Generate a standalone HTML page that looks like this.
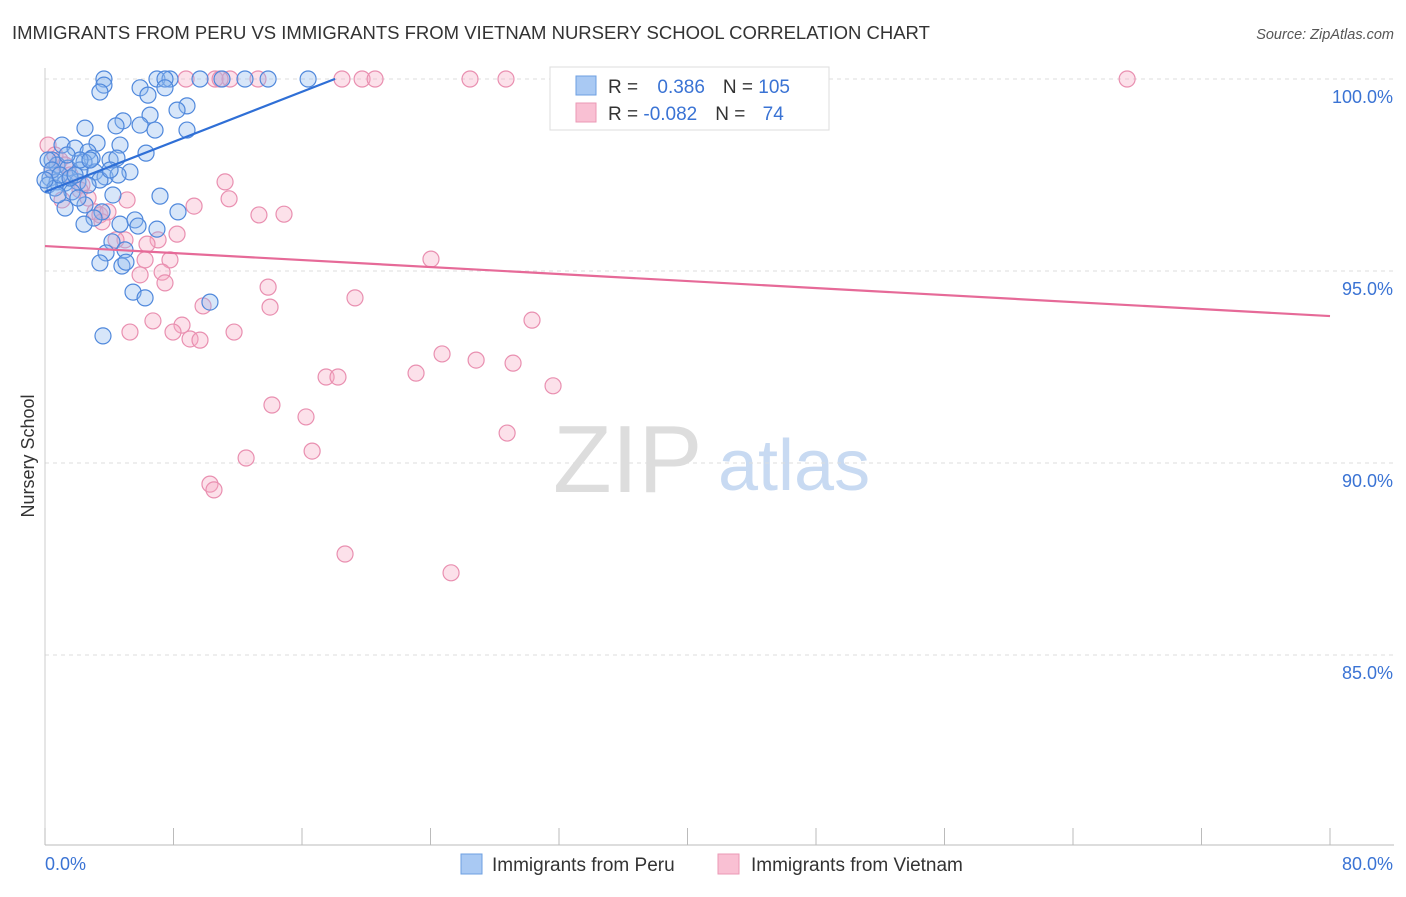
<!DOCTYPE html>
<html><head><meta charset="utf-8"><style>
body{margin:0;background:#fff;font-family:"Liberation Sans",sans-serif}
svg text{font-family:"Liberation Sans",sans-serif}
</style></head><body>
<svg id="chart" width="1406" height="892">
<text x="12" y="39" font-size="18.5" fill="#333">IMMIGRANTS FROM PERU VS IMMIGRANTS FROM VIETNAM NURSERY SCHOOL CORRELATION CHART</text>
<text x="1394" y="39" font-size="14.5" fill="#555" font-style="italic" text-anchor="end">Source: ZipAtlas.com</text>
<text x="34" y="456" font-size="18" fill="#333" transform="rotate(-90 34 456)" text-anchor="middle">Nursery School</text>
<g><text x="553" y="492" font-size="96" fill="#ddd" font-family="Liberation Serif,serif">ZIP</text><text x="718" y="490" font-size="72" fill="#c8daf2">atlas</text></g>
<g id="grid"></g><g id="axes"></g><g id="lines"></g><g id="pts"></g>
<g>
<rect x="550" y="67" width="279" height="63" fill="#fff" stroke="#ddd"/>
<rect x="576" y="76" width="20" height="19" fill="#a9c9f3" stroke="#6d9fe2"/>
<rect x="576" y="103" width="20" height="19" fill="#f9c0d3" stroke="#eb99b6"/>
<text x="608" y="93" font-size="19" fill="#333">R = <tspan fill="#3a73d4" dx="14">0.386</tspan><tspan dx="18" fill="#333">N = </tspan><tspan fill="#3a73d4">105</tspan></text>
<text x="608" y="120" font-size="19" fill="#333">R = <tspan fill="#3a73d4">-0.082</tspan><tspan dx="18" fill="#333">N = </tspan><tspan fill="#3a73d4" dx="12">74</tspan></text>
</g>
<g>
<rect x="461" y="854" width="21" height="20" fill="#a9c9f3" stroke="#6d9fe2"/>
<text x="492" y="871" font-size="19" fill="#333">Immigrants from Peru</text>
<rect x="718" y="854" width="21" height="20" fill="#f9c0d3" stroke="#eb99b6"/>
<text x="751" y="871" font-size="19" fill="#333">Immigrants from Vietnam</text>
</g>
</svg>
<script>
const yTicks=[100,95,90,85];
const yTickLabels=["100.0%","95.0%","90.0%","85.0%"];
const xTicks=[0,8,16,24,32,40,48,56,64,72,80];
const peruX=[3.67,6.97,7.78,9.65,11.02,12.45,13.89,16.38,7.47,3.67,3.42,5.92,6.41,7.47,8.84,6.54,8.22,4.86,4.42,5.92,2.49,6.85,8.84,3.24,4.67,6.29,1.06,1.87,2.68,2.93,4.05,4.48,2.43,0.44,0.75,1.43,2.18,3.11,3.74,5.29,4.55,0.31,0.75,1.25,2.05,3.42,2.68,0.19,0.62,1.68,4.23,7.16,1.25,2.49,2.05,3.55,8.28,3.05,2.43,4.67,5.60,5.79,6.97,4.17,4.98,3.80,3.42,4.79,5.04,5.48,6.23,10.27,3.61,0.19,0.44,0.93,1.56,0.81,0.0,2.18,2.80,4.05,1.87,1.37];
const peruY=[100,100,100,100,100,100,100,100,100,99.84,99.66,99.77,99.58,99.77,99.30,99.06,99.19,98.91,98.78,98.80,98.72,98.67,98.67,98.33,98.28,98.07,98.28,98.20,98.10,97.94,97.89,97.94,97.84,97.89,97.76,97.68,97.63,97.58,97.45,97.58,97.50,97.42,97.32,97.29,97.32,97.37,97.24,97.24,97.16,97.06,96.98,96.95,96.64,96.72,96.90,96.54,96.54,96.38,96.22,96.22,96.33,96.17,96.09,95.76,95.55,95.47,95.21,95.13,95.23,94.45,94.30,94.19,93.31,97.89,97.63,97.50,97.42,96.98,97.37,97.89,97.89,97.63,97.50,98.02];
const vietX=[8.78,10.59,11.52,10.90,13.26,18.49,19.74,20.55,26.46,28.70,43.15,67.37,0.19,0.62,0.93,1.25,0.44,1.56,2.30,2.18,2.68,3.11,3.42,3.55,5.11,11.21,11.46,9.28,13.32,14.88,8.22,7.04,4.98,4.42,6.35,6.23,7.78,5.92,7.29,7.47,13.89,24.03,19.30,14.01,9.84,6.72,8.53,5.29,7.97,11.77,9.03,9.65,30.32,24.72,26.84,29.14,23.10,17.50,18.24,31.63,14.13,16.25,28.77,16.63,12.52,10.27,10.52,18.68,25.28,1.06,3.92];
const vietY=[100,100,100,100,100,100,100,100,100,100,100,100,98.28,98.02,97.89,97.76,97.63,97.50,97.24,97.11,96.90,96.54,96.46,96.28,96.85,97.32,96.88,96.69,96.46,96.48,95.96,95.81,95.81,95.81,95.70,95.29,95.29,94.90,94.97,94.69,94.58,95.31,94.30,94.06,94.09,93.70,93.59,93.41,93.41,93.41,93.23,93.20,93.72,92.84,92.68,92.60,92.34,92.24,92.24,92.01,91.51,91.20,90.78,90.31,90.13,89.45,89.30,87.63,87.14,96.85,96.54];
const peruFit=[97.06,0.163,0,18.06];
const vietFit=[95.65,-0.0228,0,80];
const NS="http://www.w3.org/2000/svg";
const xs=v=>45+v*16.0625, ys=v=>79+(100-v)*38.4;
function mk(t,a,p){const e=document.createElementNS(NS,t);for(const k in a)e.setAttribute(k,a[k]);p.appendChild(e);return e;}
const grid=document.getElementById('grid'),axes=document.getElementById('axes');
yTicks.forEach((t,i)=>{
 const l=mk('line',{x1:45,x2:1394,y1:ys(t),y2:ys(t),stroke:'#ddd','stroke-dasharray':'4,4'},grid);
 
 
 const tx=mk('text',{x:1393,y:ys(t)+24,'font-size':18,fill:'#3a73d4','text-anchor':'end'},axes);
 tx.textContent=yTickLabels[i];
 
 
});
const ya=mk('line',{x1:45,x2:45,y1:68,y2:845,stroke:'#ccc'},axes);


const xa=mk('line',{x1:45,x2:1394,y1:845,y2:845,stroke:'#bbb'},axes);


xTicks.forEach(t=>{
 const l=mk('line',{x1:xs(t),x2:xs(t),y1:828,y2:845,stroke:'#bbb'},axes);
 
 
});
const xl0=mk('text',{x:45,y:870,'font-size':18,fill:'#3a73d4'},axes);xl0.textContent='0.0%';


const xl1=mk('text',{x:1393,y:870,'font-size':18,fill:'#3a73d4','text-anchor':'end'},axes);xl1.textContent='80.0%';


const pts=document.getElementById('pts');
function series(X,Y,fill,stroke,name){X.forEach((x,i)=>{
 const c=mk('circle',{cx:xs(x),cy:ys(Y[i]),r:8,fill:fill,'fill-opacity':0.35,stroke:stroke,'stroke-width':1.2},pts);
 
 
});}
series(vietX,vietY,'#f5a9c3','#e98fb0','point-vietnam');
series(peruX,peruY,'#8db8ee','#4f88dc','point-peru');
function fit(f,col,name){const l=mk('line',{x1:xs(f[2]),y1:ys(f[0]+f[1]*f[2]),x2:xs(f[3]),y2:ys(f[0]+f[1]*f[3]),stroke:col,'stroke-width':2.2},pts);
 
 }
fit(vietFit,'#e66a98','trendline-vietnam');
fit(peruFit,'#2f6fd6','trendline-peru');
</script>
</body></html>
